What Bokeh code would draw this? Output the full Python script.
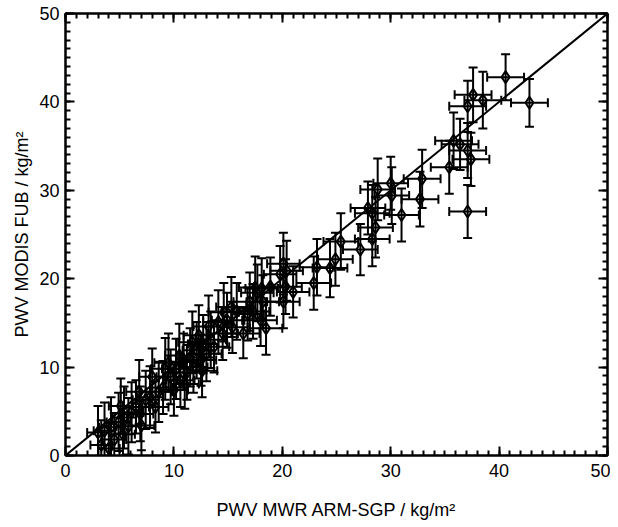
import numpy as np
from bokeh.plotting import figure
from bokeh.models import (ColumnDataSource, Whisker, TeeHead, Range1d, LinearAxis,
                          SingleIntervalTicker, CustomJSTickFormatter)
from bokeh.embed import file_html
from bokeh.resources import INLINE

# ---- data ----
mwr_pwv = [3.0, 3.3, 3.6, 4.0, 4.2, 4.5, 4.9, 5.1, 5.3, 5.4,
           5.8, 6.1, 6.5, 6.8, 6.9, 7.0, 7.4, 7.8, 8.0, 8.3,
           8.6, 9.0, 9.2, 9.5, 9.7, 10.0, 10.2, 10.5, 10.6, 10.9,
           11.0, 11.2, 11.5, 11.7, 11.8, 12.1, 12.3, 12.5, 12.6, 12.7,
           13.0, 13.2, 13.4, 13.7, 14.1, 14.5, 14.6, 14.9, 15.3, 15.4,
           15.8, 16.4, 16.8, 17.0, 17.3, 17.5, 17.7, 18.0, 18.1, 18.2,
           18.5, 18.9, 19.8, 20.1, 20.1, 20.3, 20.4, 21.0, 22.9, 23.2,
           24.4, 24.9, 25.4, 27.2, 28.3, 28.6, 27.9, 28.3, 28.8, 30.0,
           30.1, 31.0, 32.7, 32.9, 35.4, 35.8, 36.4, 37.1, 37.4, 37.1,
           37.1, 37.6, 38.5, 40.6, 42.8]
modis_pwv = [2.6, 1.2, 2.8, 0.8, 3.2, 1.8, 3.8, 5.6, 2.4, 4.3,
             3.3, 4.9, 5.5, 7.2, 4.7, 3.4, 6.3, 6.6, 8.9, 5.5,
             7.2, 7.7, 9.8, 10.5, 8.9, 7.4, 9.8, 11.3, 8.5, 10.6,
             8.1, 9.4, 11.1, 12.8, 10.0, 11.9, 13.6, 10.8, 9.6, 12.6,
             11.5, 14.6, 13.1, 12.3, 15.1, 13.8, 16.2, 15.3, 16.8, 14.5,
             16.3, 13.8, 16.0, 17.4, 16.3, 19.0, 18.4, 15.3, 18.9, 17.4,
             14.4, 19.1, 20.5, 21.7, 17.4, 19.1, 20.9, 18.5, 19.5, 21.3,
             21.2, 22.2, 24.2, 23.3, 24.5, 25.8, 28.0, 27.4, 30.1, 30.8,
             29.4, 27.2, 29.0, 31.3, 32.6, 35.6, 35.2, 34.5, 33.5, 27.6,
             39.5, 40.8, 40.2, 42.8, 39.9]
mwr_err = [1.0, 1.0, 1.0, 1.0, 1.1, 1.1, 1.1, 1.1, 1.1, 1.1,
           1.1, 1.1, 1.2, 1.2, 1.2, 1.2, 1.2, 1.2, 1.2, 1.2,
           1.2, 1.2, 1.3, 1.3, 1.3, 1.3, 1.3, 1.3, 1.3, 1.3,
           1.3, 1.3, 1.3, 1.3, 1.3, 1.3, 1.4, 1.4, 1.4, 1.4,
           1.4, 1.4, 1.4, 1.4, 1.4, 1.4, 1.4, 1.4, 1.4, 1.4,
           1.4, 1.5, 1.5, 1.5, 1.5, 1.5, 1.5, 1.5, 1.5, 1.5,
           1.5, 1.5, 1.5, 1.5, 1.5, 1.5, 1.5, 1.5, 1.6, 1.6,
           1.6, 1.6, 1.6, 1.6, 1.6, 1.6, 1.6, 1.6, 1.6, 1.6,
           1.6, 1.6, 1.7, 1.7, 1.7, 1.7, 1.7, 1.7, 1.7, 1.7,
           1.7, 1.7, 1.7, 1.7, 1.7]
modis_err = [3.0, 2.8, 3.2, 2.9, 3.4, 3.0, 3.3, 3.1, 2.9, 3.5,
             3.2, 3.4, 3.0, 3.6, 3.1, 2.8, 3.3, 3.5, 3.2, 2.9,
             3.4, 3.0, 3.5, 3.3, 3.1, 2.9, 3.4, 3.6, 3.0, 3.2,
             2.8, 3.1, 3.3, 3.5, 2.9, 3.2, 3.4, 2.9, 3.0, 3.3,
             3.1, 3.5, 3.2, 2.9, 3.6, 3.0, 3.3, 3.1, 3.4, 2.9,
             3.2, 2.8, 3.0, 3.3, 3.1, 3.5, 3.2, 2.9, 3.4, 3.0,
             3.0, 3.3, 3.2, 3.5, 3.0, 3.1, 3.4, 2.9, 3.0, 3.2,
             3.3, 3.0, 3.2, 2.9, 3.1, 3.4, 3.0, 3.2, 3.5, 3.0,
             3.2, 3.0, 3.1, 3.3, 3.0, 3.2, 2.9, 3.1, 3.0, 3.0,
             2.9, 3.1, 3.2, 2.6, 2.7]
one_to_one = [0, 50]
axis_min, axis_max = 0, 50

x = np.array(mwr_pwv)
y = np.array(modis_pwv)
xe = np.array(mwr_err)
ye = np.array(modis_err)
src = ColumnDataSource(dict(x=x, y=y, x_lo=x - xe, x_hi=x + xe,
                            y_lo=y - ye, y_hi=y + ye))

FONT = "Liberation Sans"

p = figure(width=610, height=525, output_backend="svg", toolbar_location=None,
           x_range=Range1d(axis_min, axis_max), y_range=Range1d(axis_min, axis_max),
           min_border_left=65, min_border_right=3, min_border_top=13,
           min_border_bottom=70)
p.grid.visible = False
p.background_fill_color = "white"
p.border_fill_color = "white"
p.outline_line_color = "black"
p.outline_line_width = 2

ticker = SingleIntervalTicker(interval=10, num_minor_ticks=10)

def style_axis(ax, labels=True):
    ax.ticker = ticker
    ax.axis_line_color = "black"
    ax.axis_line_width = 2
    ax.major_tick_in = 9
    ax.major_tick_out = 0
    ax.minor_tick_in = 5
    ax.minor_tick_out = 0
    ax.major_tick_line_width = 2
    ax.minor_tick_line_width = 2
    ax.major_tick_line_color = "black"
    ax.minor_tick_line_color = "black"
    if labels:
        ax.major_label_text_font = FONT
        ax.major_label_text_font_size = "18px"
        ax.major_label_text_color = "black"
        ax.axis_label_text_font = FONT
        ax.axis_label_text_font_size = "18px"
        ax.axis_label_text_font_style = "normal"
        ax.axis_label_text_color = "black"
    else:
        ax.formatter = CustomJSTickFormatter(code="return '';")
        ax.major_label_standoff = 0

style_axis(p.xaxis[0])
style_axis(p.yaxis[0])
p.xaxis[0].axis_label = "PWV MWR ARM-SGP / kg/m²"
p.yaxis[0].axis_label = "PWV MODIS FUB / kg/m²"
p.xaxis[0].axis_label_standoff = 20
p.yaxis[0].axis_label_standoff = 4
p.xaxis[0].major_label_standoff = 8
p.yaxis[0].major_label_standoff = 6

top_ax = LinearAxis()
right_ax = LinearAxis()
style_axis(top_ax, labels=False)
style_axis(right_ax, labels=False)
p.add_layout(top_ax, "above")
p.add_layout(right_ax, "right")

# 1:1 line
p.line(one_to_one, one_to_one, line_color="black", line_width=2)

# error bars
head = dict(size=9, line_color="black", line_width=2)
vw = Whisker(source=src, base="x", lower="y_lo", upper="y_hi", dimension="height",
             line_color="black", line_width=2,
             upper_head=TeeHead(**head), lower_head=TeeHead(**head))
hw = Whisker(source=src, base="y", lower="x_lo", upper="x_hi", dimension="width",
             line_color="black", line_width=2,
             upper_head=TeeHead(**head), lower_head=TeeHead(**head))
p.add_layout(vw)
p.add_layout(hw)

p.scatter("x", "y", source=src, marker="diamond", size=12, fill_color=None,
          line_color="black", line_width=2)

open("out.html", "w").write(file_html(p, INLINE))
